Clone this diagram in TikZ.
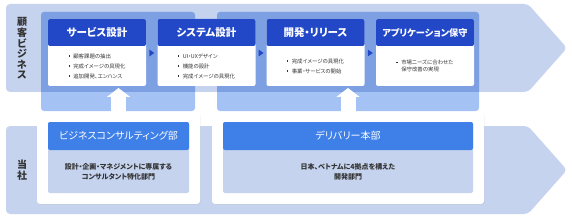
\documentclass[tikz,border=0pt]{standalone}
\usepackage{fontspec}
\setmainfont{Noto Sans CJK JP}[RawFeature=+palt]
\usetikzlibrary{calc,arrows.meta,shadows}
\definecolor{band}{HTML}{C5D3EE}
\definecolor{coldark}{HTML}{7CA0E2}
\definecolor{collight}{HTML}{A4C2F4}
\definecolor{hdrblue}{HTML}{2248C8}
\definecolor{lhdrblue}{HTML}{3F80E8}
\definecolor{txt}{HTML}{333333}
\newcommand{\bul}{\raisebox{0.45ex}{\rule{1.3pt}{1.3pt}}\hspace{3.5pt}}
\begin{document}
\begin{tikzpicture}[x=1pt,y=-1pt,
  bodybox/.style={fill=white, minimum width=98pt, minimum height=67pt, anchor=north west, rounded corners=2pt, inner sep=0pt, outer sep=0pt},
  hdrbox/.style={fill=hdrblue, text=white, font=\fontsize{10.5}{12}\selectfont\bfseries, minimum width=98pt, minimum height=27pt, anchor=north west, rounded corners=2pt, inner sep=0pt, outer sep=0pt},
  listtxt/.style={text=txt, font=\fontsize{5.4}{10}\selectfont, align=left, inner sep=0pt},
  wbox/.style={fill=white, anchor=north west, rounded corners=3pt, inner sep=0pt, outer sep=0pt, minimum height=92pt, drop shadow={opacity=0.12, shadow xshift=0.6pt, shadow yshift=-0.8pt}},
  lbody/.style={fill=band, anchor=north west, rounded corners=2pt, inner sep=0pt, outer sep=0pt, minimum height=71pt},
  lhdr/.style={fill=lhdrblue, text=white, font=\fontsize{10}{12}\selectfont, anchor=north west, rounded corners=2pt, inner sep=0pt, outer sep=0pt, minimum height=28pt},
  ltxt/.style={text=txt, font=\fontsize{7}{10}\selectfont\bfseries, align=center, inner sep=0pt},
  side/.style={text=txt, font=\fontsize{10}{10.6}\selectfont\bfseries, align=center, inner sep=0pt},
  uparrow/.style={draw=white, line width=15pt, -{Triangle[width=23pt,length=9pt]}},
  tri/.style={fill=hdrblue}
]
\useasboundingbox (0,0) rectangle (572,219);
% bands
\def\topband{(567,48) -- (528,4) -- (6,4) -- (6,92) -- (528,92) -- cycle}
\fill[band, rounded corners=4pt] \topband;
\fill[band, rounded corners=4pt] (567,170) -- (528,126) -- (6,126) -- (6,214) -- (528,214) -- cycle;
% columns
\fill[collight, rounded corners=3pt] (41,12) rectangle (195,111);
\fill[collight, rounded corners=3pt] (217,12) rectangle (479,111);
\begin{scope}
  \clip[rounded corners=4pt] \topband;
  \fill[coldark, rounded corners=3pt] (41,12) rectangle (195,111);
  \fill[coldark, rounded corners=3pt] (217,12) rectangle (479,111);
\end{scope}
% lower boxes
\node[wbox, minimum width=163pt] (w1) at (37,112) {};
\node[wbox, minimum width=272pt] (w2) at (212,112) {};
\node[lbody, minimum width=141pt] (lb1) at (48,122) {};
\node[lhdr, minimum width=141pt] (lh1) at (48,122) {ビジネスコンサルティング部};
\node[lbody, minimum width=250pt] (lb2) at (223,122) {};
\node[lhdr, minimum width=250pt] (lh2) at (223,122) {デリバリー本部};
\node[ltxt] (lt1) at ($(lh1.south)!.5!(lb1.south)$) {設計・企画・マネジメントに専属する\\コンサルタント特化部門};
\node[ltxt] (lt2) at ($(lh2.south)!.5!(lb2.south)$) {日本、ベトナムに4拠点を構えた\\開発部門};
% top boxes
\node[bodybox] (b1) at (48,19) {};
\node[hdrbox] (h1) at (48,19) {サービス設計};
\node[bodybox] (b2) at (157.5,19) {};
\node[hdrbox] (h2) at (157.5,19) {システム設計};
\node[bodybox] (b3) at (266.5,19) {};
\node[hdrbox] (h3) at (266.5,19) {開発・リリース};
\node[bodybox] (b4) at (376,19) {};
\node[hdrbox, font=\fontsize{9.2}{12}\selectfont\bfseries] (h4) at (376,19) {アプリケーション保守};
\node[listtxt] (t1) at ($(h1.south)!.5!(b1.south)$) {\bul 顧客課題の抽出\\\bul 完成イメージの具現化\\\bul 追加開発、エンハンス};
\node[listtxt] (t2) at ($(h2.south)!.5!(b2.south)$) {\bul UI・UXデザイン\\\bul 機能の設計\\\bul 完成イメージの具現化};
\node[listtxt] (t3) at ($(h3.south)!.5!(b3.south)$) {\bul 完成イメージの具現化\\\bul 事業・サービスの開始};
\node[listtxt, font=\fontsize{5.4}{7.5}\selectfont] (t4) at ($(h4.south)!.5!(b4.south)$) {\bul 市場ニーズに合わせた\\\hphantom{\bul}保守改善の実現};
% small triangles
\foreach \a/\b in {h1/h2,h2/h3,h3/h4}{
  \coordinate (m) at ($(\a.south east)!.5!(\b.south west)+(0,7)$);
  \fill[tri] ($(m)+(-2.5,-3.5)$) -- ($(m)+(2.5,0)$) -- ($(m)+(-2.5,3.5)$) -- cycle;
}
% up arrows
\draw[uparrow] (w1.north) -- ++(0,-24);
\draw[uparrow] (w2.north) -- ++(0,-24);
% side labels
\node[side] (s1) at (22,48.5) {顧\\客\\ビ\\ジ\\ネ\\ス};
\node[side] (s2) at (22,170) {当\\社};
\end{tikzpicture}
\end{document}
